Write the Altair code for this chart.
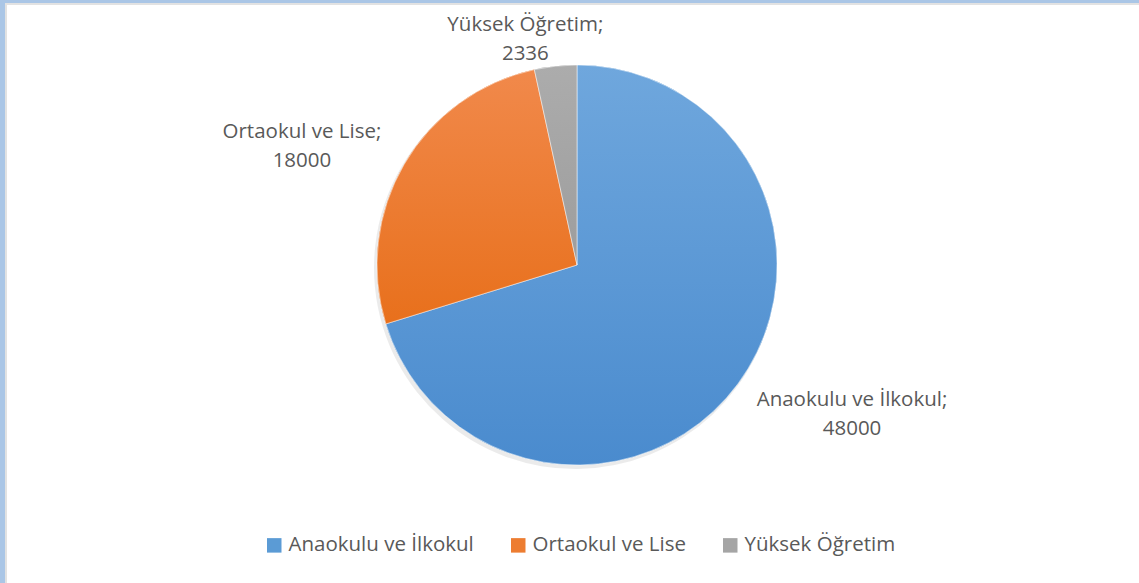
import math
import altair as alt
import pandas as pd

categories = ["Anaokulu ve İlkokul", "Ortaokul ve Lise", "Yüksek Öğretim"]
values = [48000, 18000, 2336]
order = [0, 1, 2]

flat_colors = ["#5b9bd5", "#ed7d31", "#a5a5a5"]
grad_colors = [("#6fa7dd", "#4a8bce"), ("#f1894b", "#e8701c"), ("#acacac", "#9d9d9d")]

df = pd.DataFrame({"category": categories, "value": values, "order": order})
total = sum(values)

FONT = "Open Sans"
TXT = "#595959"
FS = 20.5
CX, CY, R = 577, 265, 200

theta_scale = alt.Scale(domain=[0, total], range=[0, 2 * math.pi])

base = (
    alt.Chart(df)
    .transform_window(cum="sum(value)", sort=[alt.SortField("order")], frame=[None, 0])
    .transform_calculate(
        start="datum.cum - datum.value",
        mid="datum.cum - datum.value / 2",
        label="datum.category + ';\\n' + datum.value",
    )
)

# flat layer carrying the legend
legend_layer = base.mark_arc(stroke="white", strokeWidth=0).encode(
    theta=alt.Theta("start:Q", scale=theta_scale),
    theta2="cum:Q",
    radius=alt.value(R),
    x=alt.value(CX),
    y=alt.value(CY),
    color=alt.Color(
        "category:N",
        scale=alt.Scale(domain=categories, range=flat_colors),
        sort=categories,
        legend=alt.Legend(
            title=None,
            orient="none",
            direction="horizontal",
            legendX=264,
            legendY=535,
            symbolType="square",
            symbolSize=210,
            symbolStrokeWidth=0,
            labelFont=FONT,
            labelFontSize=FS,
            labelColor=TXT,
            labelLimit=500,
            columnPadding=34,
            labelOffset=4,
        ),
    ),
)

# shadow
shadow = base.mark_arc(color="#000000", opacity=0.08).encode(
    theta=alt.Theta("start:Q", scale=theta_scale),
    theta2="cum:Q",
    radius=alt.value(R + 1),
    x=alt.value(CX - 2),
    y=alt.value(CY + 3),
)

grad_layers = []
for cat, (c1, c2) in zip(categories, grad_colors):
    g = alt.Gradient(
        gradient="linear",
        x1=0, y1=0, x2=0, y2=1,
        stops=[alt.GradientStop(color=c1, offset=0), alt.GradientStop(color=c2, offset=1)],
    )
    grad_layers.append(
        base.transform_filter(alt.datum.category == cat)
        .mark_arc(color=g, stroke="#ffffff", strokeWidth=0.5)
        .encode(
            theta=alt.Theta("start:Q", scale=theta_scale),
            theta2="cum:Q",
            radius=alt.value(R),
            x=alt.value(CX),
            y=alt.value(CY),
        )
    )

label_specs = {
    categories[0]: dict(r=312, dx=24, dy=-50),
    categories[1]: dict(r=300, dx=-16, dy=18),
    categories[2]: dict(r=230, dx=-27, dy=-11),
}
label_layers = []
for cat, s in label_specs.items():
    label_layers.append(
        base.transform_filter(alt.datum.category == cat)
        .mark_text(
            font=FONT, fontSize=FS, color=TXT, lineBreak="\n", lineHeight=29,
            align="center", baseline="middle", dx=s["dx"], dy=s["dy"],
        )
        .encode(
            theta=alt.Theta("mid:Q", scale=theta_scale),
            radius=alt.value(s["r"]),
            x=alt.value(CX),
            y=alt.value(CY),
            text="label:N",
        )
    )

frame_df = pd.DataFrame({"k": [0]})
frame = alt.layer(
    alt.Chart(frame_df).mark_rect(color="#aac6e6").encode(
        x=alt.value(0), x2=alt.value(1139), y=alt.value(0), y2=alt.value(3)),
    alt.Chart(frame_df).mark_rect(color="#aac6e6").encode(
        x=alt.value(0), x2=alt.value(5), y=alt.value(0), y2=alt.value(583)),
    alt.Chart(frame_df).mark_rect(color="#e2e2e2").encode(
        x=alt.value(5), x2=alt.value(1139), y=alt.value(3), y2=alt.value(5)),
    alt.Chart(frame_df).mark_rect(color="#e2e2e2").encode(
        x=alt.value(5), x2=alt.value(7), y=alt.value(3), y2=alt.value(583)),
)

chart = (
    alt.layer(frame, shadow, legend_layer, *grad_layers, *label_layers)
    .properties(width=1139, height=583, autosize=alt.AutoSizeParams(type="none"), padding=0)
    .configure_view(stroke=None)
    .configure(background="white")
)

chart.save("out.html", embed_options={"renderer": "svg", "actions": False})
